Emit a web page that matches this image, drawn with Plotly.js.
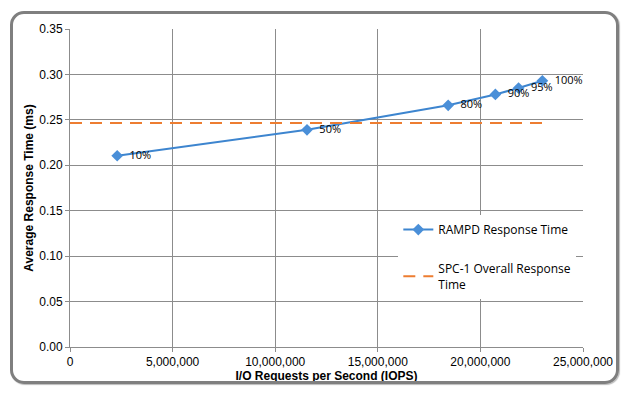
<!DOCTYPE html>
<html><head><meta charset="utf-8">
<script src="https://cdn.plot.ly/plotly-3.0.1.min.js"></script>
<style>
html,body{margin:0;padding:0;background:#fff;}
#wrap{position:relative;width:635px;height:401px;}
#chart{position:absolute;left:0;top:0;width:635px;height:401px;}
#frame{position:absolute;box-sizing:border-box;left:10px;top:11px;width:609px;height:373px;border:3px solid #7f7f7f;border-radius:14px;pointer-events:none;box-shadow:1px 1px 1px #bbb;}
</style></head>
<body><div id="wrap"><div id="chart"></div><div id="frame"></div></div>
<script>
const iops = [2300000, 11550000, 18430000, 20730000, 21860000, 23020000];
const respTime = [0.2105, 0.239, 0.266, 0.278, 0.285, 0.293];
const loadLabels = ['10%', '50%', '80%', '90%', '95%', '100%'];
const overallX = [0, 23020000];
const overallY = [0.2465, 0.2465];
const xTicks = [0, 5000000, 10000000, 15000000, 20000000, 25000000];
const xTickText = ['0', '5,000,000', '10,000,000', '15,000,000', '20,000,000', '25,000,000'];
const yTicks = [0, 0.05, 0.10, 0.15, 0.20, 0.25, 0.30, 0.35];
const yTickText = ['0.00','0.05','0.10','0.15','0.20','0.25','0.30','0.35'];

const traces = [
  {x: iops, y: respTime, text: loadLabels, texttemplate: '  %{text}', name: 'RAMPD Response Time',
   legendgroup: 'a',
   mode: 'lines+markers+text', textposition: 'middle right',
   textfont: {family: 'Open Sans, Liberation Sans, sans-serif', size: 11, color: '#000'},
   line: {color: '#3d85cf', width: 2}, marker: {symbol: 'diamond', size: 9, color: '#4a8fd8'}},
  {x: overallX, y: overallY, name: 'SPC-1 Overall Response<br>Time', mode: 'lines',
   legendgroup: 'b',
   line: {color: '#ed7d31', width: 2, dash: '12px,8px'}}
];
const axisFont = {family: 'Liberation Sans, Arial, sans-serif', size: 12, color: '#000'};
const layout = {
  width: 635, height: 401,
  margin: {l: 70, r: 52, t: 29, b: 54},
  paper_bgcolor: 'rgba(0,0,0,0)', plot_bgcolor: '#fff',
  showlegend: true,
  legend: {x: 0.64, y: 0.415, xanchor: 'left', yanchor: 'top', bgcolor: '#fff',
    font: {family: 'Open Sans, Liberation Sans, sans-serif', size: 12, color: '#000'},
    tracegroupgap: 20, itemwidth: 30},
  xaxis: {range: [0, 25000000], tickvals: xTicks, ticktext: xTickText,
    showgrid: true, gridcolor: '#8c8c8c', gridwidth: 1, zeroline: false,
    showline: true, linecolor: '#8c8c8c', ticks: 'outside', ticklen: 4, tickcolor: '#8c8c8c',
    tickfont: axisFont,
    title: {text: '<b>I/O Requests per Second (IOPS)</b>', font: axisFont, standoff: 1}},
  yaxis: {range: [0, 0.35], tickvals: yTicks, ticktext: yTickText,
    showgrid: true, gridcolor: '#8c8c8c', gridwidth: 1, zeroline: false,
    showline: true, linecolor: '#8c8c8c', ticks: 'outside', ticklen: 4, tickcolor: '#8c8c8c',
    tickfont: axisFont,
    title: {text: '<b>Average Response Time (ms)</b>', font: axisFont, standoff: 3}}
};
Plotly.newPlot('chart', traces, layout, {displayModeBar: false, staticPlot: true});
</script></body></html>
